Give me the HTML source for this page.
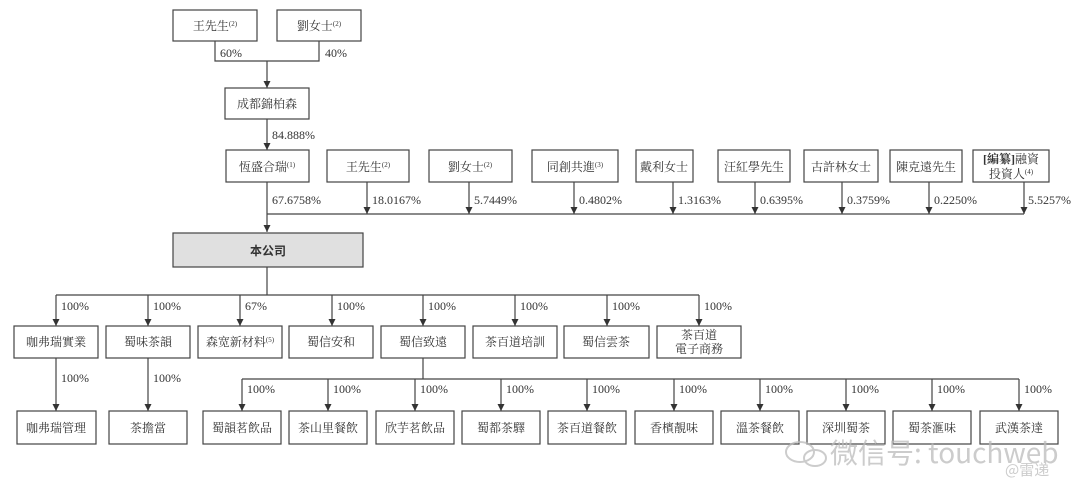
<!DOCTYPE html>
<html><head><meta charset="utf-8"><style>
html,body{margin:0;padding:0;background:#fff;}
svg{display:block;}
text{font-family:"Liberation Serif","Noto Serif CJK SC",serif;font-size:12px;fill:#333;}
.b{fill:#fff;stroke:#444;stroke-width:1.2;}
.l{stroke:#444;stroke-width:1.2;fill:none;}
.c{text-anchor:middle;}
</style></head><body>
<svg width="1080" height="493" viewBox="0 0 1080 493" xmlns="http://www.w3.org/2000/svg">
<defs><marker id="a" markerWidth="8" markerHeight="8" refX="4" refY="7" orient="0" markerUnits="userSpaceOnUse"><path d="M0.5,0 L7.5,0 L4,7 z" fill="#333"/></marker></defs>

<!-- top -->
<rect class="b" x="173" y="10" width="84" height="31"/><text class="c" x="215" y="30">王先生<tspan font-size="7" dy="-4">(2)</tspan></text>
<rect class="b" x="277" y="10" width="84" height="31"/><text class="c" x="319" y="30">劉女士<tspan font-size="7" dy="-4">(2)</tspan></text>
<path class="l" d="M215,41 V61 H319 V41"/>
<path class="l" d="M267,61 V88" marker-end="url(#a)"/>
<text x="220" y="57">60%</text><text x="325" y="57">40%</text>
<rect class="b" x="225" y="88" width="84" height="31"/><text class="c" x="267" y="108">成都錦柏森</text>
<path class="l" d="M267,119 V150" marker-end="url(#a)"/>
<text x="272" y="139">84.888%</text>

<!-- row 2 -->
<rect class="b" x="226" y="150" width="83" height="32"/><text class="c" x="267" y="171">恆盛合瑞<tspan font-size="7" dy="-4">(1)</tspan></text>
<rect class="b" x="327" y="150" width="82" height="32"/><text class="c" x="368" y="171">王先生<tspan font-size="7" dy="-4">(2)</tspan></text>
<rect class="b" x="429" y="150" width="83" height="32"/><text class="c" x="470" y="171">劉女士<tspan font-size="7" dy="-4">(2)</tspan></text>
<rect class="b" x="532" y="150" width="86" height="32"/><text class="c" x="575" y="171">同創共進<tspan font-size="7" dy="-4">(3)</tspan></text>
<rect class="b" x="636" y="150" width="57" height="32"/><text class="c" x="664" y="171">戴利女士</text>
<rect class="b" x="718" y="150" width="72" height="32"/><text class="c" x="754" y="171">汪紅學先生</text>
<rect class="b" x="804" y="150" width="74" height="32"/><text class="c" x="841" y="171">古許林女士</text>
<rect class="b" x="890" y="150" width="72" height="32"/><text class="c" x="926" y="171">陳克遠先生</text>
<rect class="b" x="973" y="150" width="76" height="32"/><text class="c" x="1011" y="163"><tspan font-weight="bold">[編纂]</tspan>融資</text><text class="c" x="1011" y="178">投資人<tspan font-size="7" dy="-4">(4)</tspan></text>
<path class="l" d="M267,214 H1024"/>
<path class="l" d="M267,182 V232" marker-end="url(#a)"/>
<path class="l" d="M367,182 V214" marker-end="url(#a)"/>
<path class="l" d="M469,182 V214" marker-end="url(#a)"/>
<path class="l" d="M574,182 V214" marker-end="url(#a)"/>
<path class="l" d="M673,182 V214" marker-end="url(#a)"/>
<path class="l" d="M755,182 V214" marker-end="url(#a)"/>
<path class="l" d="M842,182 V214" marker-end="url(#a)"/>
<path class="l" d="M929,182 V214" marker-end="url(#a)"/>
<path class="l" d="M1024,182 V214" marker-end="url(#a)"/>
<text x="272" y="204">67.6758%</text>
<text x="372" y="204">18.0167%</text>
<text x="474" y="204">5.7449%</text>
<text x="579" y="204">0.4802%</text>
<text x="678" y="204">1.3163%</text>
<text x="760" y="204">0.6395%</text>
<text x="847" y="204">0.3759%</text>
<text x="934" y="204">0.2250%</text>
<text x="1028" y="204">5.5257%</text>

<rect x="173" y="233" width="190" height="34" fill="#e0e0e0" stroke="#444" stroke-width="1.2"/>
<text class="c" x="268" y="255" font-weight="bold" style="font-family:'Noto Sans CJK SC',sans-serif;font-size:12px">本公司</text>

<!-- row 3 -->
<path class="l" d="M267,267 V295 M56,295 H699"/>
<g>
<path class="l" d="M56,295 V326" marker-end="url(#a)"/><text x="61" y="310">100%</text>
<path class="l" d="M148,295 V326" marker-end="url(#a)"/><text x="153" y="310">100%</text>
<path class="l" d="M240,295 V326" marker-end="url(#a)"/><text x="245" y="310">67%</text>
<path class="l" d="M332,295 V326" marker-end="url(#a)"/><text x="337" y="310">100%</text>
<path class="l" d="M423,295 V326" marker-end="url(#a)"/><text x="428" y="310">100%</text>
<path class="l" d="M515,295 V326" marker-end="url(#a)"/><text x="520" y="310">100%</text>
<path class="l" d="M607,295 V326" marker-end="url(#a)"/><text x="612" y="310">100%</text>
<path class="l" d="M699,295 V326" marker-end="url(#a)"/><text x="704" y="310">100%</text>
</g>
<rect class="b" x="14" y="326" width="84" height="32"/><text class="c" x="56" y="346">咖弗瑞實業</text>
<rect class="b" x="106" y="326" width="84" height="32"/><text class="c" x="148" y="346">蜀味茶韻</text>
<rect class="b" x="198" y="326" width="84" height="32"/><text class="c" x="240" y="346">森宽新材料<tspan font-size="7" dy="-4">(5)</tspan></text>
<rect class="b" x="289" y="326" width="84" height="32"/><text class="c" x="331" y="346">蜀信安和</text>
<rect class="b" x="381" y="326" width="84" height="32"/><text class="c" x="423" y="346">蜀信致遠</text>
<rect class="b" x="473" y="326" width="84" height="32"/><text class="c" x="515" y="346">茶百道培訓</text>
<rect class="b" x="564" y="326" width="85" height="32"/><text class="c" x="606" y="346">蜀信雲茶</text>
<rect class="b" x="657" y="326" width="84" height="32"/><text class="c" x="699" y="339">茶百道</text><text class="c" x="699" y="353">電子商務</text>

<!-- row 4 -->
<path class="l" d="M56,358 V411" marker-end="url(#a)"/><text x="61" y="382">100%</text>
<path class="l" d="M148,358 V411" marker-end="url(#a)"/><text x="153" y="382">100%</text>
<rect class="b" x="17" y="411" width="79" height="33"/><text class="c" x="56" y="432">咖弗瑞管理</text>
<rect class="b" x="109" y="411" width="78" height="33"/><text class="c" x="148" y="432">茶擔當</text>

<path class="l" d="M423,358 V379 M242,379 H1019"/>
<g>
<path class="l" d="M242,379 V411" marker-end="url(#a)"/><text x="247" y="393">100%</text>
<path class="l" d="M328,379 V411" marker-end="url(#a)"/><text x="333" y="393">100%</text>
<path class="l" d="M415,379 V411" marker-end="url(#a)"/><text x="420" y="393">100%</text>
<path class="l" d="M501,379 V411" marker-end="url(#a)"/><text x="506" y="393">100%</text>
<path class="l" d="M587,379 V411" marker-end="url(#a)"/><text x="592" y="393">100%</text>
<path class="l" d="M674,379 V411" marker-end="url(#a)"/><text x="679" y="393">100%</text>
<path class="l" d="M760,379 V411" marker-end="url(#a)"/><text x="765" y="393">100%</text>
<path class="l" d="M846,379 V411" marker-end="url(#a)"/><text x="851" y="393">100%</text>
<path class="l" d="M932,379 V411" marker-end="url(#a)"/><text x="937" y="393">100%</text>
<path class="l" d="M1019,379 V411" marker-end="url(#a)"/><text x="1024" y="393">100%</text>
</g>
<rect class="b" x="203" y="411" width="78" height="33"/><text class="c" x="242" y="432">蜀韻茗飲品</text>
<rect class="b" x="289" y="411" width="78" height="33"/><text class="c" x="328" y="432">茶山里餐飲</text>
<rect class="b" x="376" y="411" width="78" height="33"/><text class="c" x="415" y="432">欣芋茗飲品</text>
<rect class="b" x="462" y="411" width="78" height="33"/><text class="c" x="501" y="432">蜀都茶驛</text>
<rect class="b" x="548" y="411" width="78" height="33"/><text class="c" x="587" y="432">茶百道餐飲</text>
<rect class="b" x="635" y="411" width="78" height="33"/><text class="c" x="674" y="432">香檳靚味</text>
<rect class="b" x="721" y="411" width="78" height="33"/><text class="c" x="760" y="432">溫茶餐飲</text>
<rect class="b" x="807" y="411" width="78" height="33"/><text class="c" x="846" y="432">深圳蜀茶</text>
<rect class="b" x="893" y="411" width="78" height="33"/><text class="c" x="932" y="432">蜀茶滙味</text>
<rect class="b" x="980" y="411" width="78" height="33"/><text class="c" x="1019" y="432">武漢茶達</text>

<!-- watermark -->
<g opacity="0.75">
<ellipse cx="800" cy="452" rx="14" ry="10" fill="none" stroke="#bbb" stroke-width="2"/>
<ellipse cx="815" cy="458" rx="11" ry="8" fill="none" stroke="#bbb" stroke-width="2"/>
<text x="830" y="463" style="font-family:'Noto Sans CJK SC',sans-serif;font-size:28px;fill:#bbb">微信号: touchweb</text>
<text x="1005" y="475" style="font-family:'Noto Sans CJK SC',sans-serif;font-size:15px;fill:#bbb">@雷递</text>
</g>
</svg>
</body></html>
